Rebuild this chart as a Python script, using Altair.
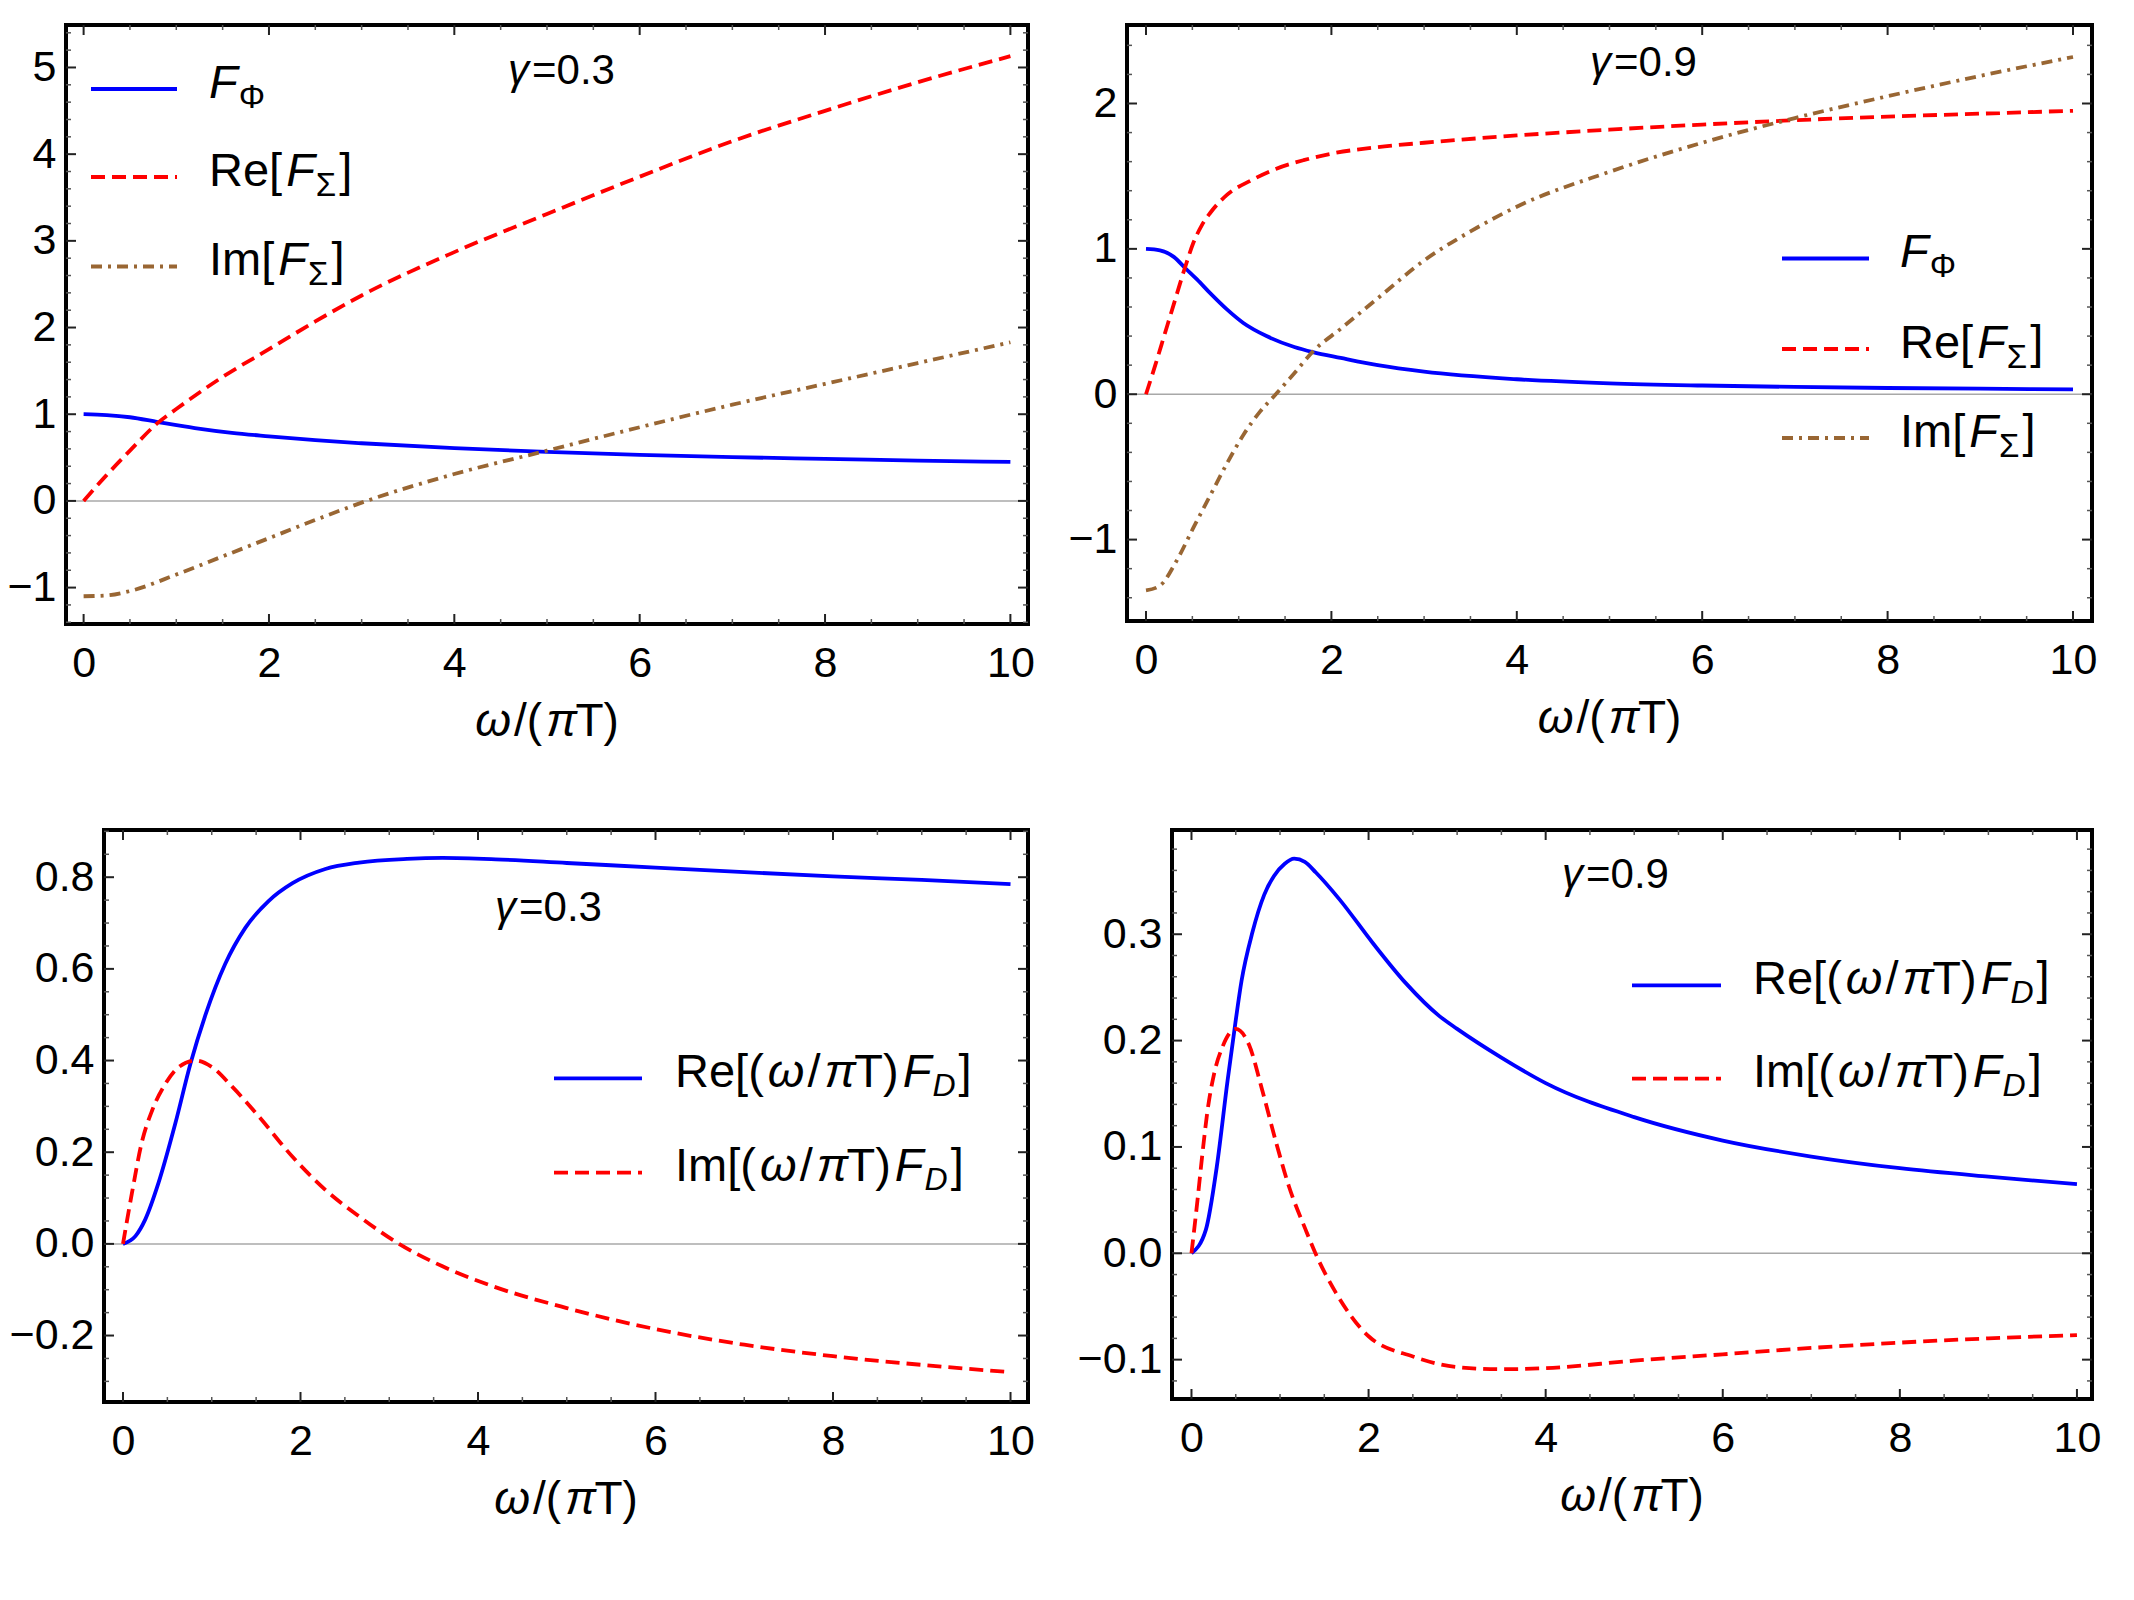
import altair as alt
import numpy as np
import pandas as pd

FONT = "Liberation Sans"
BLUE, RED, BROWN = "#0000ff", "#ff0000", "#996633"
DASH = [14, 7]
DASHDOT = [11, 6, 3, 6]
LINE_W = 3.8

# ---------------- gamma = 0.3 : F_Phi, Re/Im F_Sigma ----------------
g3_phi_w = [0, 0.25, 0.5, 0.8, 1.2, 1.6, 2, 2.5, 3, 4, 5, 6, 7, 8, 9, 10]
g3_phi = [1.0, 0.99, 0.965, 0.91, 0.84, 0.785, 0.745, 0.70, 0.665, 0.61, 0.565,
          0.53, 0.505, 0.485, 0.465, 0.45]
g3_resig_w = [0, 0.25, 0.5, 0.8, 1, 1.5, 2, 2.5, 3, 4, 5, 6, 7, 8, 9, 10]
g3_resig = [0, 0.3, 0.58, 0.9, 1.06, 1.43, 1.75, 2.07, 2.37, 2.87, 3.31, 3.74,
            4.15, 4.5, 4.83, 5.13]
g3_imsig_w = [0, 0.25, 0.5, 1, 1.5, 2, 2.5, 3, 4, 5, 6, 7, 8, 9, 10]
g3_imsig = [-1.1, -1.09, -1.04, -0.85, -0.64, -0.43, -0.22, -0.02, 0.31, 0.58,
            0.85, 1.11, 1.35, 1.59, 1.83]

# ---------------- gamma = 0.9 : F_Phi, Re/Im F_Sigma ----------------
g9_phi_w = [0, 0.15, 0.3, 0.42, 0.55, 0.7, 0.87, 1.05, 1.3, 1.6, 1.8, 2.1, 2.5,
            3, 4, 5, 6, 7, 8, 9, 10]
g9_phi = [1.0, 0.99, 0.945, 0.87, 0.79, 0.69, 0.585, 0.49, 0.40, 0.325, 0.29,
          0.25, 0.20, 0.155, 0.103, 0.075, 0.06, 0.05, 0.043, 0.038, 0.033]
g9_resig_w = [0, 0.1, 0.2, 0.3, 0.42, 0.51, 0.6, 0.69, 0.87, 1.13, 1.4, 1.7, 2,
              2.5, 3, 4, 5, 6, 7, 8, 9, 10]
g9_resig = [0, 0.2, 0.41, 0.62, 0.87, 1.04, 1.16, 1.245, 1.37, 1.47, 1.55, 1.61,
            1.655, 1.70, 1.73, 1.78, 1.82, 1.855, 1.885, 1.91, 1.93, 1.95]
g9_imsig_w = [0, 0.15, 0.33, 0.51, 0.69, 0.87, 1.05, 1.23, 1.4, 1.6, 1.81, 2.1,
              2.5, 3, 3.5, 4, 5, 6, 7, 8, 9, 10]
g9_imsig = [-1.35, -1.317, -1.146, -0.92, -0.70, -0.48, -0.28, -0.12, 0, 0.145,
            0.30, 0.45, 0.66, 0.92, 1.12, 1.29, 1.53, 1.73, 1.9, 2.05, 2.19, 2.32]

# ---------------- gamma = 0.3 : (w/piT) F_D ----------------
d3_re_w = [0, 0.14, 0.25, 0.4, 0.59, 0.76, 0.93, 1.15, 1.38, 1.64, 1.91, 2.28,
           2.66, 3.2, 3.6, 4.2, 5, 6, 7, 8, 9, 10]
d3_re = [0, 0.017, 0.053, 0.133, 0.263, 0.393, 0.50, 0.61, 0.69, 0.748, 0.787,
         0.818, 0.832, 0.840, 0.842, 0.839, 0.831, 0.821, 0.811, 0.802, 0.794, 0.785]
d3_im_w = [0, 0.1, 0.21, 0.33, 0.48, 0.63, 0.82, 1.0, 1.23, 1.53, 1.91, 2.28,
           2.66, 3.11, 3.6, 4.16, 5, 6, 7, 8, 9, 10]
d3_im = [0, 0.11, 0.22, 0.292, 0.35, 0.386, 0.40, 0.386, 0.343, 0.278, 0.19,
         0.118, 0.06, 0, -0.049, -0.092, -0.14, -0.186, -0.22, -0.245, -0.264, -0.28]

# ---------------- gamma = 0.9 : (w/piT) F_D ----------------
d9_re_w = [0, 0.162, 0.286, 0.407, 0.493, 0.565, 0.689, 0.821, 0.934, 1.05, 1.16,
           1.28, 1.405, 1.669, 2.045, 2.42, 2.8, 3.0, 3.5, 4, 5, 6, 7, 8, 9, 10]
d9_re = [0, 0.022, 0.0815, 0.162, 0.215, 0.256, 0.302, 0.337, 0.355, 0.366, 0.371,
         0.368, 0.358, 0.333, 0.292, 0.254, 0.223, 0.211, 0.184, 0.160, 0.128, 0.106,
         0.091, 0.080, 0.072, 0.065]
d9_im_w = [0, 0.068, 0.124, 0.181, 0.256, 0.35, 0.5, 0.65, 0.8, 0.95, 1.1, 1.29,
           1.4, 1.63, 2, 2.5, 3, 3.5, 4, 5, 6, 7, 8, 9, 10]
d9_im = [0, 0.05, 0.094, 0.134, 0.169, 0.194, 0.211, 0.196, 0.153, 0.106, 0.063,
         0.022, 0, -0.037, -0.078, -0.097, -0.107, -0.109, -0.108, -0.101, -0.095,
         -0.089, -0.084, -0.080, -0.077]

X_LABELS = [0, 2, 4, 6, 8, 10]

# advance widths (em) of the sans face, used to set mixed upright/italic labels
W = {"R": .722, "e": .556, "[": .278, "]": .278, "(": .333, ")": .333, "I": .278,
     "m": .833, "/": .278, "T": .611, "F": .611, "D": .722, "ω": .781, "π": .57,
     "Σ": .618, "Φ": .797, "γ": .5, "=": .584, "0": .556, ".": .278, "3": .556,
     "9": .556}

ONE = pd.DataFrame({"k": [0]})


def text_layer(txt, x, y, size, italic=False):
    return alt.Chart(ONE).mark_text(
        text=txt, font=FONT, fontSize=size, align="left", baseline="alphabetic",
        fontStyle="italic" if italic else "normal", color="black",
    ).encode(x=alt.value(x), y=alt.value(y))


def _gap(prev, kind):
    if prev is None:
        return 0
    if kind in ("s", "u"):
        return 1
    if kind == "i":
        return 4
    return 3 if prev != "n" else 0


def rich_width(pieces, size, sub_size):
    x, prev = 0.0, None
    for txt, kind in pieces:
        fs = sub_size if kind in ("s", "u") else size
        x += _gap(prev, kind) + sum(W[c] for c in txt) * fs
        prev = kind
    return x


def rich(pieces, x0, y0, size, sub_size=32, drop=10):
    """Upright ('n'), italic ('i'), italic subscript ('s') and upright subscript ('u') runs."""
    out, x, prev = [], float(x0), None
    for txt, kind in pieces:
        sub = kind in ("s", "u")
        fs = sub_size if sub else size
        x += _gap(prev, kind)
        out.append(text_layer(txt, x, y0 + (drop if sub else 0), fs,
                              italic=kind in ("i", "s")))
        x += sum(W[c] for c in txt) * fs
        prev = kind
    return out


def swatch(x1, x2, y, color, dash):
    kw = dict(color=color, strokeWidth=LINE_W)
    if dash:
        kw["strokeDash"] = dash
    return alt.Chart(ONE).mark_rule(**kw).encode(
        x=alt.value(x1), x2=alt.value(x2), y=alt.value(y))


def panel(series, xdom, ydom, ylabels, yfmt, ystep, w, h, extent, xextent, legend, gamma):
    xs = alt.Scale(domain=xdom, nice=False, zero=False)
    ys = alt.Scale(domain=ydom, nice=False, zero=False)
    xaxis = alt.Axis(
        values=X_LABELS, format="d", title=None, ticks=False, domain=False,
        grid=False, labelFont=FONT, labelFontSize=43, labelColor="black",
        labelPadding=18, minExtent=xextent, maxExtent=xextent, labelOverlap=False,
        labelFlush=False)
    yaxis = alt.Axis(
        values=ylabels, format=yfmt, title=None, ticks=False, domain=False,
        grid=False, labelFont=FONT, labelFontSize=43, labelColor="black",
        labelPadding=10, minExtent=extent, maxExtent=extent, labelOverlap=False,
        labelFlush=False)

    def X(f):
        return alt.X(f, scale=xs, axis=xaxis)

    def Y(f):
        return alt.Y(f, scale=ys, axis=yaxis)

    layers = []
    # zero line
    layers.append(alt.Chart(pd.DataFrame({"z": [0]})).mark_rule(
        color="#a8a8a8", strokeWidth=1.5).encode(
        y=Y("z:Q"), x=alt.value(0), x2=alt.value(w)))

    # inward frame ticks on all four sides
    xmin = [t for t in np.arange(0, 10.01, 0.5) if round(t, 6) not in X_LABELS]
    lo, hi = ydom
    ymaj_set = {round(t, 6) for t in ylabels}
    ymin = [round(t, 6) for t in np.arange(np.ceil(lo / ystep) * ystep, hi, ystep)
            if round(t, 6) not in ymaj_set]
    for vals, L, col, sw in ((X_LABELS, 10, "#222222", 2), (xmin, 5, "#555555", 1.5)):
        base = alt.Chart(pd.DataFrame({"t": vals})).mark_rule(color=col, strokeWidth=sw)
        layers.append(base.encode(x=X("t:Q"), y=alt.value(h), y2=alt.value(h - L)))
        layers.append(base.encode(x=X("t:Q"), y=alt.value(0), y2=alt.value(L)))
    for vals, L, col, sw in ((ylabels, 10, "#222222", 2), (ymin, 5, "#555555", 1.5)):
        base = alt.Chart(pd.DataFrame({"t": vals})).mark_rule(color=col, strokeWidth=sw)
        layers.append(base.encode(y=Y("t:Q"), x=alt.value(0), x2=alt.value(L)))
        layers.append(base.encode(y=Y("t:Q"), x=alt.value(w), x2=alt.value(w - L)))

    # curves
    for wv, vv, color, dash in series:
        kw = dict(color=color, strokeWidth=LINE_W, interpolate="monotone")
        if dash:
            kw["strokeDash"] = dash
        layers.append(alt.Chart(pd.DataFrame({"w": wv, "v": vv})).mark_line(**kw)
                      .encode(x=X("w:Q"), y=Y("v:Q")))

    # legend: line samples and labels
    for (pieces, color, dash), ry in zip(legend["items"], legend["rows"]):
        layers.append(swatch(legend["sx1"], legend["sx2"], ry, color, dash))
        layers += rich(pieces, legend["tx"], ry + 8.5, legend["size"],
                       sub_size=legend["sub"], drop=legend["drop"])

    # gamma tag
    gx, gy, gtxt = gamma
    layers += rich([("γ", "i"), (gtxt, "n")], gx, gy, 42)

    # axis title  ω/(πT)
    title = [("ω", "i"), ("/(", "n"), ("π", "i"), ("T)", "n")]
    tw = rich_width(title, 46, 32)
    layers += rich(title, w / 2 - tw / 2, h + 112, 46)

    return alt.layer(*layers).properties(width=w, height=h)


def gutter():
    # empty, frameless cell that sets the left margin of a row
    return alt.Chart(ONE).mark_rule(opacity=0).encode(
        x=alt.value(0), x2=alt.value(1), y=alt.value(0)
    ).properties(width=1, height=1,
                 view=alt.ViewBackground(stroke="transparent", strokeWidth=0))


F_PHI = [("F", "i"), ("Φ", "u")]
RE_SIG = [("Re[", "n"), ("F", "i"), ("Σ", "u"), ("]", "n")]
IM_SIG = [("Im[", "n"), ("F", "i"), ("Σ", "u"), ("]", "n")]
RE_D = [("Re[(", "n"), ("ω", "i"), ("/", "n"), ("π", "i"), ("T)", "n"), ("F", "i"),
        ("D", "s"), ("]", "n")]
IM_D = [("Im[(", "n"), ("ω", "i"), ("/", "n"), ("π", "i"), ("T)", "n"), ("F", "i"),
        ("D", "s"), ("]", "n")]

p1 = panel(
    [(g3_phi_w, g3_phi, BLUE, None), (g3_resig_w, g3_resig, RED, DASH),
     (g3_imsig_w, g3_imsig, BROWN, DASHDOT)],
    [-0.19, 10.19], [-1.42, 5.49], [-1, 0, 1, 2, 3, 4, 5], "d", 0.2,
    962, 599, 63, 125,
    dict(sx1=25, sx2=111, tx=143, rows=[64, 152, 241.5], size=47, sub=33, drop=10,
         items=[(F_PHI, BLUE, None), (RE_SIG, RED, DASH), (IM_SIG, BROWN, DASHDOT)]),
    (442, 59, "=0.3"),
)

p2 = panel(
    [(g9_phi_w, g9_phi, BLUE, None), (g9_resig_w, g9_resig, RED, DASH),
     (g9_imsig_w, g9_imsig, BROWN, DASHDOT)],
    [-0.205, 10.205], [-1.56, 2.54], [-1, 0, 1, 2], "d", 0.2,
    965, 596, 88, 131,
    dict(sx1=655, sx2=742, tx=773, rows=[233.5, 324, 413], size=47, sub=33, drop=10,
         items=[(F_PHI, BLUE, None), (RE_SIG, RED, DASH), (IM_SIG, BROWN, DASHDOT)]),
    (463, 51, "=0.9"),
)

p3 = panel(
    [(d3_re_w, d3_re, BLUE, None), (d3_im_w, d3_im, RED, DASH)],
    [-0.214, 10.197], [-0.345, 0.903], [-0.2, 0.0, 0.2, 0.4, 0.6, 0.8], ".1f", 0.05,
    924, 572, 101, 125,
    dict(sx1=450, sx2=538, tx=571, rows=[248.3, 342.7], size=47, sub=32, drop=9,
         items=[(RE_D, BLUE, None), (IM_D, RED, DASH)]),
    (391, 91, "=0.3"),
)

p4 = panel(
    [(d9_re_w, d9_re, BLUE, None), (d9_im_w, d9_im, RED, DASH)],
    [-0.22, 10.17], [-0.137, 0.398], [-0.1, 0.0, 0.1, 0.2, 0.3], ".1f", 0.02,
    920, 569, 95, 125,
    dict(sx1=460, sx2=549, tx=581, rows=[155.3, 248.7], size=47, sub=32, drop=9,
         items=[(RE_D, BLUE, None), (IM_D, RED, DASH)]),
    (390, 58, "=0.9"),
)

chart = (
    alt.concat(gutter(), p1, p2, gutter(), p3, p4, columns=3, align="none",
               spacing={"row": 73, "column": 0})
    .properties(padding={"left": 0, "top": 22, "right": 0, "bottom": 0})
    .configure(background="white")
    .configure_view(stroke="black", strokeWidth=4)
)

chart.save("out.html", embed_options={"renderer": "svg", "actions": False})
